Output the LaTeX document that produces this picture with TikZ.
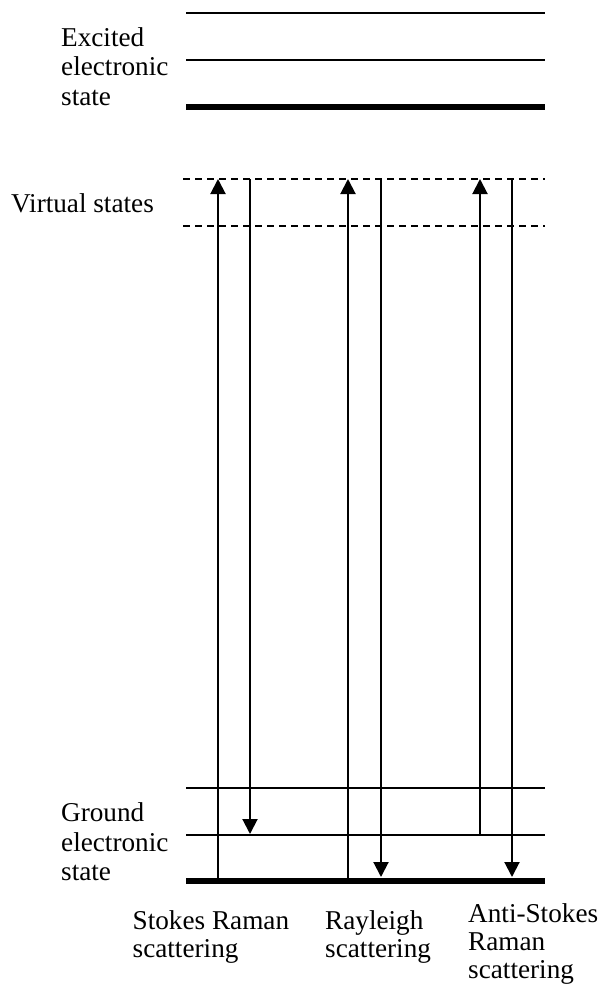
\documentclass[tikz,border=0pt]{standalone}
\usepackage{fontspec}
\setmainfont{Liberation Serif}
\usetikzlibrary{arrows.meta}
\begin{document}
\begin{tikzpicture}[x=1pt,y=-1pt,
  level/.style={line width=1.8pt},
  mainlevel/.style={line width=6.8pt},
  virtual/.style={line width=1.5pt,dash pattern=on 7pt off 5pt},
  trans/.style={line width=2pt,-{Triangle[width=15pt,length=15pt]}},
  lbl/.style={anchor=base west,inner sep=0pt,align=left,font=\fontsize{27.2}{29.5}\selectfont},
  blbl/.style={anchor=base west,inner sep=0pt,align=left,font=\fontsize{27.2}{27.8}\selectfont}]
\useasboundingbox (0,0) rectangle (598,985);
% energy levels
\draw[level] (186,13) -- (545,13);
\draw[level] (186,60) -- (545,60);
\draw[mainlevel] (186,107) -- (545,107);
\draw[virtual] (183,179) -- (545,179);
\draw[virtual] (183,226) -- (545,226);
\draw[level] (186,788) -- (545,788);
\draw[level] (186,835) -- (545,835);
\draw[mainlevel] (186,881) -- (545,881);
% end points of transitions
\coordinate (s1) at (218,881);
\coordinate (s2) at (218,179);
\coordinate (s3) at (250,179);
\coordinate (s4) at (250,834);
\coordinate (r1) at (348,881);
\coordinate (r2) at (348,179);
\coordinate (r3) at (381,179);
\coordinate (r4) at (381,877);
\coordinate (a1) at (480,835);
\coordinate (a2) at (480,179);
\coordinate (a3) at (512,179);
\coordinate (a4) at (512,877);
\draw[trans] (s1) -- (s2);
\draw[trans] (s3) -- (s4);
\draw[trans] (r1) -- (r2);
\draw[trans] (r3) -- (r4);
\draw[trans] (a1) -- (a2);
\draw[trans] (a3) -- (a4);
% labels (anchor = baseline of the last line)
\node[lbl] (exc) at (61,105) {Excited\\electronic\\state};
\node[lbl] (virt) at (11,212) {Virtual states};
\node[lbl] (gnd) at (61,880.5) {Ground\\electronic\\state};
\node[blbl] (stokes) at (132.5,957) {Stokes Raman\\scattering};
\node[blbl] (ray) at (325,957) {Rayleigh\\scattering};
\node[blbl] (anti) at (468,978) {Anti-Stokes\\Raman\\scattering};
\end{tikzpicture}
\end{document}
